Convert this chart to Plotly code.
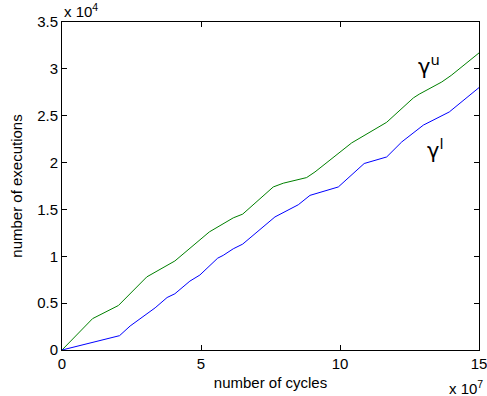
import plotly.graph_objects as go

# number of cycles (x 10^7) and number of executions (x 10^4)
upper_x = [0, 1.1, 2.03, 3.05, 4.06, 4.96, 5.3, 6.16, 6.5, 7.6, 7.96, 8.8, 9.1,
           10.42, 11.45, 11.68, 12.64, 12.85, 13.66, 14.0, 15]
upper_y = [0, 0.335, 0.475, 0.78, 0.95, 1.18, 1.26, 1.41, 1.45, 1.74, 1.78, 1.84, 1.90,
           2.21, 2.39, 2.43, 2.69, 2.73, 2.86, 2.93, 3.17]

lower_x = [0, 2.07, 2.45, 2.81, 3.35, 3.78, 4.06, 4.6, 4.96, 5.6, 5.8, 6.16, 6.5,
           7.66, 8.5, 8.92, 9.94, 10.87, 11.68, 12.22, 13.0, 13.93, 15]
lower_y = [0, 0.153, 0.256, 0.33, 0.45, 0.56, 0.60, 0.735, 0.80, 0.98, 1.01, 1.08, 1.13,
           1.42, 1.55, 1.65, 1.74, 1.99, 2.06, 2.22, 2.40, 2.54, 2.80]

x_ticks = [0, 5, 10, 15]
x_tick_labels = ["0", "5", "10", "15"]
y_ticks = [0, 0.5, 1, 1.5, 2, 2.5, 3, 3.5]
y_tick_labels = ["0", "0.5", "1", "1.5", "2", "2.5", "3", "3.5"]

FONT = "Liberation Sans, Arial, Helvetica, sans-serif"
GFONT = "DejaVu Sans, Liberation Sans, sans-serif"

fig = go.Figure()
fig.add_trace(go.Scatter(x=upper_x, y=upper_y, mode="lines", name="γu",
                         line=dict(color="#008000", width=1)))
fig.add_trace(go.Scatter(x=lower_x, y=lower_y, mode="lines", name="γl",
                         line=dict(color="#0000ff", width=1)))

axis_common = dict(showline=True, linecolor="black", linewidth=1, mirror="ticks",
                   ticks="inside", ticklen=5, tickcolor="black", tickwidth=1,
                   showgrid=False, zeroline=False, ticklabeloverflow="allow",
                   automargin=False,
                   tickfont=dict(family=FONT, size=15, color="black"))

fig.update_layout(
    width=487, height=396,
    margin=dict(l=62, r=8, t=22, b=46),
    paper_bgcolor="white", plot_bgcolor="white",
    showlegend=False,
    font=dict(family=FONT, size=15, color="black"),
    xaxis=dict(range=[0, 15], tickvals=x_ticks, ticktext=x_tick_labels,
               title=dict(text="number of cycles", standoff=6,
                          font=dict(family=FONT, size=15)),
               **axis_common),
    yaxis=dict(range=[0, 3.5], tickvals=y_ticks, ticktext=y_tick_labels,
               title=dict(text="number of executions", standoff=10,
                          font=dict(family=FONT, size=15)),
               **axis_common),
)

fig.add_annotation(text="x 10<sup>4</sup>", xref="paper", yref="paper",
                   x=0.0, y=1.0, xanchor="left", yanchor="bottom",
                   showarrow=False, font=dict(family=FONT, size=15))
fig.add_annotation(text="x 10<sup>7</sup>", xref="paper", yref="paper",
                   x=1.015, y=-0.15, xanchor="right", yanchor="bottom",
                   showarrow=False, font=dict(family=FONT, size=15))
fig.add_annotation(text="γ<sup>u</sup>", xref="x", yref="y",
                   x=13.2, y=3.04, xanchor="center", yanchor="middle",
                   showarrow=False, font=dict(family=GFONT, size=21))
fig.add_annotation(text="γ<sup>l</sup>", xref="x", yref="y",
                   x=13.45, y=2.15, xanchor="center", yanchor="middle",
                   showarrow=False, font=dict(family=GFONT, size=21))

fig.write_html("out.html")
